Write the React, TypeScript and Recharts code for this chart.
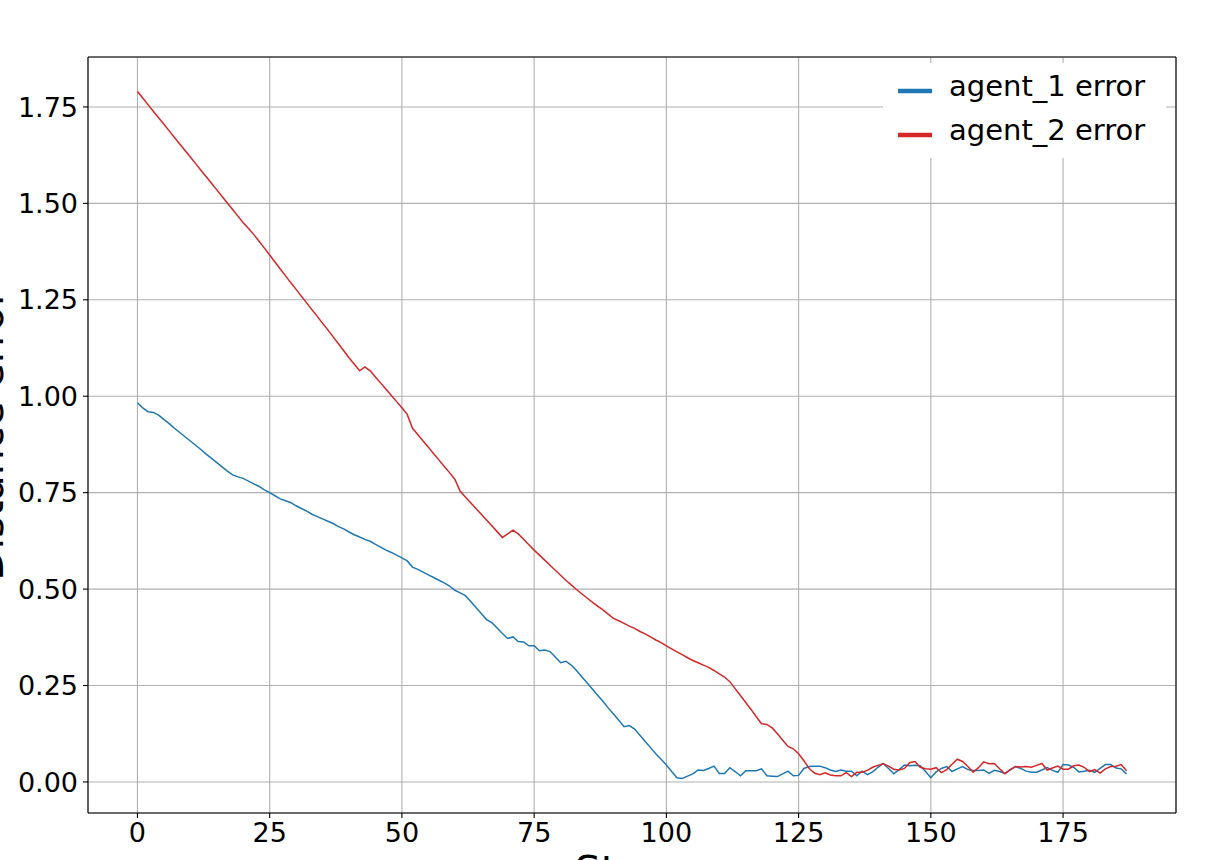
import React from 'react';
import { LineChart, Line, XAxis, YAxis, CartesianGrid, Legend, ReferenceLine } from 'recharts';

// distance error per step
const agent1Error = [
  0.983, 0.970, 0.960, 0.958, 0.951, 0.940, 0.929, 0.917, 0.906, 0.895,
  0.884, 0.873, 0.862, 0.850, 0.839, 0.828, 0.817, 0.806, 0.796, 0.791,
  0.787, 0.780, 0.773, 0.766, 0.757, 0.750, 0.742, 0.734, 0.729, 0.724,
  0.716, 0.709, 0.702, 0.694, 0.688, 0.682, 0.676, 0.670, 0.662, 0.656,
  0.648, 0.641, 0.635, 0.629, 0.624, 0.616, 0.609, 0.601, 0.595, 0.588,
  0.581, 0.573, 0.557, 0.551, 0.544, 0.537, 0.530, 0.523, 0.516, 0.508,
  0.497, 0.490, 0.483, 0.468, 0.452, 0.437, 0.421, 0.413, 0.399, 0.385,
  0.372, 0.376, 0.364, 0.363, 0.353, 0.353, 0.340, 0.342, 0.338, 0.324,
  0.309, 0.313, 0.303, 0.289, 0.273, 0.257, 0.241, 0.225, 0.209, 0.192,
  0.176, 0.160, 0.143, 0.146, 0.137, 0.121, 0.105, 0.089, 0.073, 0.059,
  0.044, 0.027, 0.011, 0.009, 0.015, 0.021, 0.031, 0.030, 0.035, 0.041,
  0.022, 0.022, 0.037, 0.027, 0.016, 0.029, 0.029, 0.029, 0.034, 0.016,
  0.015, 0.014, 0.021, 0.028, 0.016, 0.017, 0.035, 0.040, 0.041, 0.041,
  0.037, 0.031, 0.027, 0.031, 0.028, 0.028, 0.016, 0.028, 0.019, 0.026,
  0.038, 0.048, 0.035, 0.021, 0.032, 0.044, 0.042, 0.043, 0.042, 0.027,
  0.011, 0.026, 0.035, 0.040, 0.027, 0.034, 0.040, 0.032, 0.030, 0.030,
  0.031, 0.022, 0.030, 0.027, 0.022, 0.031, 0.040, 0.035, 0.028, 0.025,
  0.025, 0.031, 0.037, 0.030, 0.025, 0.045, 0.044, 0.038, 0.026, 0.028,
  0.030, 0.025, 0.035, 0.045, 0.045, 0.036, 0.034, 0.021,
];

const agent2Error = [
  1.790, 1.773, 1.756, 1.739, 1.722, 1.705, 1.688, 1.671, 1.654, 1.637,
  1.620, 1.603, 1.586, 1.569, 1.552, 1.535, 1.518, 1.501, 1.484, 1.467,
  1.450, 1.435, 1.419, 1.402, 1.384, 1.366, 1.348, 1.330, 1.312, 1.294,
  1.277, 1.259, 1.242, 1.224, 1.207, 1.189, 1.172, 1.154, 1.136, 1.118,
  1.100, 1.083, 1.066, 1.076, 1.066, 1.050, 1.034, 1.018, 1.002, 0.986,
  0.970, 0.953, 0.917, 0.901, 0.884, 0.868, 0.851, 0.835, 0.818, 0.802,
  0.785, 0.754, 0.739, 0.724, 0.709, 0.694, 0.679, 0.664, 0.649, 0.634,
  0.643, 0.653, 0.643, 0.629, 0.615, 0.601, 0.588, 0.575, 0.562, 0.549,
  0.536, 0.523, 0.511, 0.499, 0.488, 0.477, 0.466, 0.456, 0.446, 0.435,
  0.424, 0.418, 0.411, 0.404, 0.398, 0.390, 0.384, 0.376, 0.368, 0.361,
  0.353, 0.345, 0.337, 0.330, 0.322, 0.315, 0.309, 0.303, 0.297, 0.289,
  0.280, 0.272, 0.260, 0.242, 0.224, 0.206, 0.188, 0.169, 0.151, 0.149,
  0.140, 0.125, 0.108, 0.092, 0.086, 0.073, 0.055, 0.035, 0.023, 0.019,
  0.024, 0.018, 0.016, 0.016, 0.024, 0.014, 0.025, 0.025, 0.030, 0.038,
  0.043, 0.047, 0.041, 0.033, 0.031, 0.035, 0.050, 0.053, 0.038, 0.034,
  0.033, 0.037, 0.024, 0.032, 0.046, 0.059, 0.053, 0.040, 0.025, 0.037,
  0.052, 0.047, 0.048, 0.034, 0.021, 0.032, 0.040, 0.039, 0.040, 0.038,
  0.043, 0.048, 0.031, 0.036, 0.041, 0.033, 0.033, 0.042, 0.044, 0.038,
  0.027, 0.032, 0.023, 0.034, 0.040, 0.041, 0.045, 0.029,
];

const xTicks = [0, 25, 50, 75, 100, 125, 150, 175];
const yTicks = [0, 0.25, 0.5, 0.75, 1.0, 1.25, 1.5, 1.75];

const X_DOMAIN: [number, number] = [-9.35, 196.35];
const Y_DOMAIN: [number, number] = [-0.0805, 1.8795];

const BLUE = '#1f77b4';
const RED = '#d62728';
const FONT = '"DejaVu Sans", sans-serif';

const data = agent1Error.map((v, i) => ({ step: i, agent1: v, agent2: agent2Error[i] }));

const legendItems = [
  { label: 'agent_1 error', color: BLUE },
  { label: 'agent_2 error', color: RED },
];

// matplotlib-like legend box: white, no border
const renderLegend = () => (
  <svg width={283} height={95} style={{ display: 'block', background: '#fff' }}>
    {legendItems.map((item, i) => (
      <g key={item.label}>
        <line x1={15} x2={49} y1={28 + i * 44} y2={28 + i * 44} stroke={item.color} strokeWidth={4.5} />
        <text x={66} y={33 + i * 44} fontSize={29} fontFamily={FONT} fill="#000">
          {item.label}
        </text>
      </g>
    ))}
  </svg>
);

const tickStyle = { fill: '#000', fontSize: 27, fontFamily: FONT };

export default function App() {
  return (
    <div style={{ position: 'absolute', left: 0, top: 0, width: 1229, height: 860, background: '#fff' }}>
      <LineChart
        width={1229}
        height={860}
        data={data}
        margin={{ top: 57, right: 53, bottom: 0, left: 0 }}
        style={{ fontFamily: FONT }}
      >
        <CartesianGrid stroke="#b0b0b0" strokeWidth={1.1} />
        <XAxis
          dataKey="step"
          type="number"
          domain={X_DOMAIN}
          ticks={xTicks}
          allowDataOverflow
          height={47}
          tickSize={5}
          tickMargin={5}
          tick={tickStyle}
          axisLine={{ stroke: '#000', strokeWidth: 1.1 }}
          tickLine={{ stroke: '#000', strokeWidth: 1.1 }}
          label={() => (
            <text x={632} y={885} textAnchor="middle" fontSize={41} fontFamily={FONT} fill="#000">
              Steps
            </text>
          )}
        />
        <YAxis
          type="number"
          domain={Y_DOMAIN}
          ticks={yTicks}
          allowDataOverflow
          width={88}
          tickSize={5}
          tickMargin={5}
          tick={tickStyle}
          tickFormatter={(v: number) => v.toFixed(2)}
          axisLine={{ stroke: '#000', strokeWidth: 1.1 }}
          tickLine={{ stroke: '#000', strokeWidth: 1.1 }}
          label={() => (
            <text
              x={3}
              y={435}
              transform="rotate(-90, 3, 435)"
              textAnchor="middle"
              fontSize={41}
              fontFamily={FONT}
              fill="#000"
            >
              Distance error
            </text>
          )}
        />
        <ReferenceLine y={Y_DOMAIN[1]} stroke="#000" strokeWidth={1.1} />
        <ReferenceLine x={X_DOMAIN[1]} stroke="#000" strokeWidth={1.1} />
        <Line
          type="linear"
          dataKey="agent1"
          name="agent_1 error"
          stroke={BLUE}
          strokeWidth={1.5}
          dot={false}
          isAnimationActive={false}
        />
        <Line
          type="linear"
          dataKey="agent2"
          name="agent_2 error"
          stroke={RED}
          strokeWidth={1.5}
          dot={false}
          isAnimationActive={false}
        />
        <Legend
          layout="vertical"
          align="center"
          verticalAlign="middle"
          content={renderLegend}
          wrapperStyle={{ left: 883, top: 63, width: 283, height: 95 }}
        />
      </LineChart>
    </div>
  );
}
